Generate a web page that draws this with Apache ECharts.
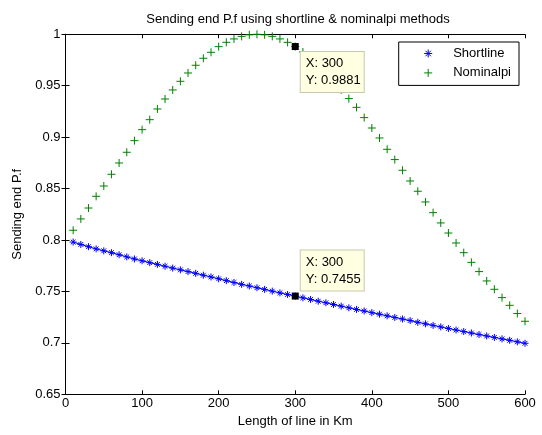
<!DOCTYPE html>
<html>
<head>
<meta charset="utf-8">
<script src="https://cdn.jsdelivr.net/npm/echarts@6.0.0/dist/echarts.min.js"></script>
<style>
  html, body { margin: 0; padding: 0; background: #fff; }
  #chart { width: 542px; height: 435px; }
</style>
</head>
<body>
<div id="chart"></div>
<script>
// line length in km (every 10 km)
var lengthKm = [10, 20, 30, 40, 50, 60, 70, 80, 90, 100,
    110, 120, 130, 140, 150, 160, 170, 180, 190, 200,
    210, 220, 230, 240, 250, 260, 270, 280, 290, 300,
    310, 320, 330, 340, 350, 360, 370, 380, 390, 400,
    410, 420, 430, 440, 450, 460, 470, 480, 490, 500,
    510, 520, 530, 540, 550, 560, 570, 580, 590, 600];

// sending end power factor, short line model
var shortline = [0.7980, 0.7957, 0.7935, 0.7914, 0.7895, 0.7877, 0.7857, 0.7836, 0.7816, 0.7798,
    0.7780, 0.7763, 0.7745, 0.7727, 0.7710, 0.7693, 0.7676, 0.7658, 0.7641, 0.7623,
    0.7605, 0.7587, 0.7569, 0.7553, 0.7536, 0.7520, 0.7503, 0.7486, 0.7470, 0.7455,
    0.7438, 0.7422, 0.7405, 0.7390, 0.7373, 0.7357, 0.7341, 0.7325, 0.7310, 0.7294,
    0.7279, 0.7263, 0.7247, 0.7232, 0.7217, 0.7200, 0.7185, 0.7170, 0.7155, 0.7140,
    0.7125, 0.7110, 0.7096, 0.7081, 0.7067, 0.7053, 0.7039, 0.7025, 0.7010, 0.6996];

// sending end power factor, nominal pi model
var nominalpi = [0.8095, 0.8205, 0.8311, 0.8425, 0.8525, 0.8639, 0.8749, 0.8853, 0.8966, 0.9073,
    0.9170, 0.9274, 0.9371, 0.9459, 0.9543, 0.9624, 0.9699, 0.9767, 0.9825, 0.9880,
    0.9922, 0.9955, 0.9980, 0.9995, 1.0000, 0.9995, 0.9980, 0.9955, 0.9922, 0.9881,
    0.9828, 0.9770, 0.9702, 0.9627, 0.9545, 0.9460, 0.9375, 0.9290, 0.9190, 0.9089,
    0.8992, 0.8882, 0.8782, 0.8678, 0.8574, 0.8474, 0.8370, 0.8266, 0.8166, 0.8068,
    0.7971, 0.7877, 0.7783, 0.7693, 0.7602, 0.7521, 0.7440, 0.7365, 0.7285, 0.7210];

// data tips
var tipX = 300;
var tipShort = 0.7455;
var tipNominal = 0.9881;

var FONT = 'Liberation Sans';
var FS = 13;
var starPath = 'path://M5,0L5,10M0,5L10,5M1.6,1.6L8.4,8.4M8.4,1.6L1.6,8.4';
var plusPath = 'path://M5,0L5,10M0,5L10,5';

function pairs(xs, ys) {
    var out = [];
    for (var i = 0; i < xs.length; i++) {
        out.push([xs[i], ys[i]]);
    }
    return out;
}

function tipLabel(x, y, pos) {
    return {
        show: true,
        position: pos,
        formatter: 'X: ' + x + '\nY: ' + y,
        color: '#000',
        fontFamily: FONT,
        fontSize: FS,
        lineHeight: 17,
        backgroundColor: '#ffffe1',
        borderColor: '#c8c8b0',
        borderWidth: 1,
        padding: [3, 3, 3, 5],
        align: 'left',
        verticalAlign: 'top'
    };
}

var myChart = echarts.init(document.getElementById('chart'), null, {renderer: 'canvas'});

var sideAxis = {
    axisLine: {show: true, lineStyle: {color: '#000', width: 1}},
    axisTick: {show: true, inside: true, length: 4, lineStyle: {color: '#000'}},
    axisLabel: {show: false},
    splitLine: {show: false}
};

myChart.setOption({
    animation: false,
    backgroundColor: '#fff',
    title: {
        text: 'Sending end P.f using shortline & nominalpi methods',
        left: 293,
        top: 8,
        textAlign: 'center',
        textStyle: {fontFamily: FONT, fontSize: FS, fontWeight: 'normal', color: '#000'}
    },
    grid: {left: 65.5, right: 17, top: 34.3, bottom: 40.7},
    legend: {
        orient: 'vertical',
        right: 23,
        top: 42,
        backgroundColor: '#fff',
        borderColor: '#000',
        borderWidth: 1,
        padding: [4, 8, 5, 25],
        itemWidth: 8,
        itemHeight: 8,
        itemGap: 4.4,
        textStyle: {fontFamily: FONT, fontSize: FS, color: '#000', padding: [0, 0, 0, 16], lineHeight: 15},
        data: [
            {name: 'Shortline', icon: starPath, itemStyle: {color: '#0000ff', borderColor: '#0000ff', borderWidth: 1}},
            {name: 'Nominalpi', icon: plusPath, itemStyle: {color: '#008000', borderColor: '#008000', borderWidth: 1}}
        ]
    },
    xAxis: [{
        type: 'value',
        min: 0,
        max: 600,
        interval: 100,
        name: 'Length of line in Km',
        nameLocation: 'middle',
        nameGap: 20,
        nameTextStyle: {fontFamily: FONT, fontSize: FS, color: '#000'},
        axisLine: {show: true, lineStyle: {color: '#000', width: 1}},
        axisTick: {show: true, inside: true, length: 4, lineStyle: {color: '#000'}},
        axisLabel: {fontFamily: FONT, fontSize: FS, color: '#000', margin: 3},
        splitLine: {show: false}
    }, Object.assign({type: 'value', position: 'top', min: 0, max: 600, interval: 100}, sideAxis)],
    yAxis: [{
        type: 'value',
        min: 0.65,
        max: 1,
        interval: 0.05,
        name: 'Sending end P.f',
        nameLocation: 'middle',
        nameGap: 38,
        nameTextStyle: {fontFamily: FONT, fontSize: FS, color: '#000'},
        axisLine: {show: true, lineStyle: {color: '#000', width: 1}},
        axisTick: {show: true, inside: true, length: 4, lineStyle: {color: '#000'}},
        axisLabel: {fontFamily: FONT, fontSize: FS, color: '#000', margin: 5},
        splitLine: {show: false}
    }, Object.assign({type: 'value', position: 'right', min: 0.65, max: 1, interval: 0.05}, sideAxis)],
    series: [{
        name: 'Shortline',
        type: 'line',
        xAxisIndex: 0,
        yAxisIndex: 0,
        data: pairs(lengthKm, shortline),
        symbol: starPath,
        symbolSize: 7,
        showAllSymbol: true,
        lineStyle: {color: '#0000ff', width: 1},
        itemStyle: {color: '#0000ff', borderColor: '#0000ff', borderWidth: 1},
        markPoint: {
            symbol: 'rect',
            symbolSize: 7,
            itemStyle: {color: '#000', borderColor: '#000', borderWidth: 0},
            data: [{coord: [tipX, tipShort], label: tipLabel(tipX, tipShort, [9, -42])}]
        },
        z: 3
    }, {
        name: 'Nominalpi',
        type: 'scatter',
        xAxisIndex: 0,
        yAxisIndex: 0,
        data: pairs(lengthKm, nominalpi),
        symbol: plusPath,
        symbolSize: 8,
        itemStyle: {color: '#008000', borderColor: '#008000', borderWidth: 1, opacity: 1},
        markPoint: {
            symbol: 'rect',
            symbolSize: 7,
            itemStyle: {color: '#000', borderColor: '#000', borderWidth: 0},
            data: [{coord: [tipX, tipNominal], label: tipLabel(tipX, tipNominal, [9, 9])}]
        },
        z: 3
    }]
});
</script>
</body>
</html>
